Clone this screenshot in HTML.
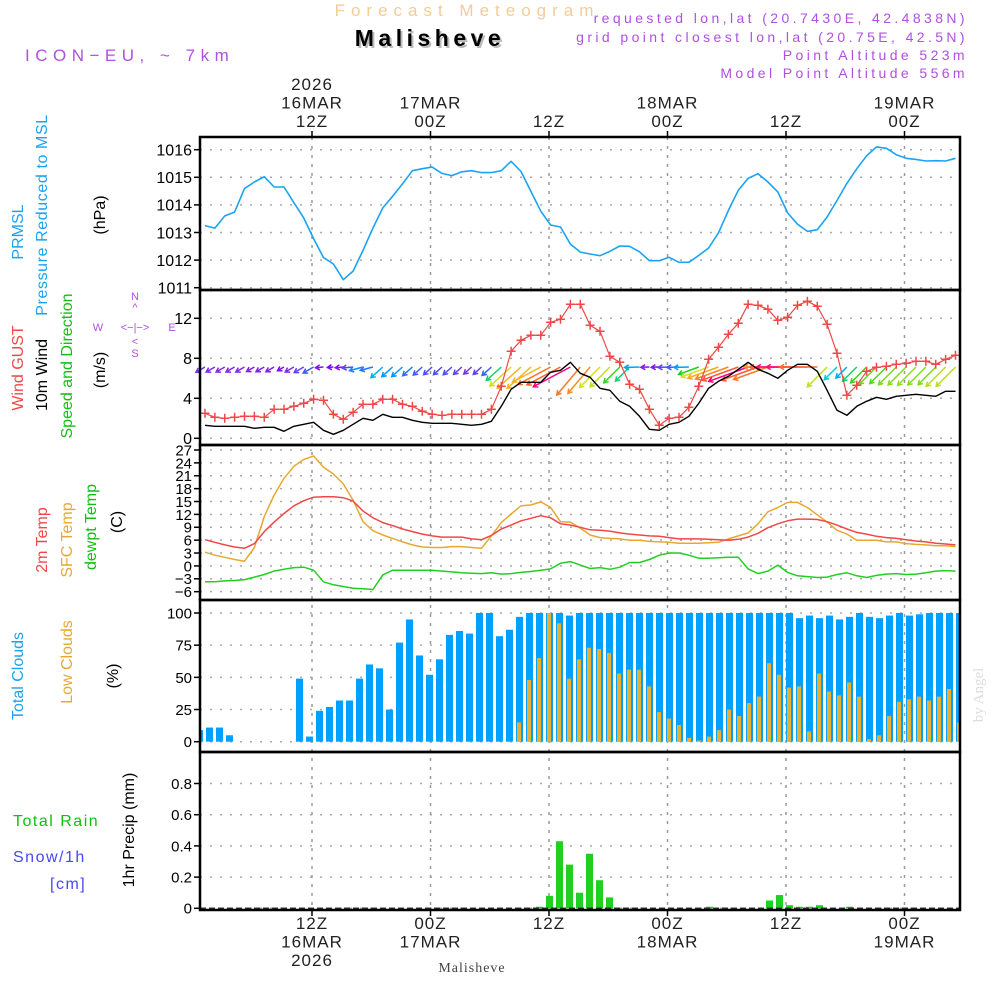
<!DOCTYPE html>
<html><head><meta charset="utf-8">
<style>
html,body{margin:0;padding:0;background:#fff;}
svg{display:block;font-family:"Liberation Sans",sans-serif;}
</style></head>
<body>
<svg id="chart" width="1000" height="1000" viewBox="0 0 1000 1000" xmlns="http://www.w3.org/2000/svg">
<rect x="0" y="0" width="1000" height="1000" fill="#fff"/>
<text x="467" y="16" font-size="17" fill="#f3cc96" text-anchor="middle" letter-spacing="6">Forecast Meteogram</text>
<text x="432" y="48" font-size="23" font-weight="bold" fill="#bbb" text-anchor="middle" letter-spacing="4.5">Malisheve</text>
<text x="430" y="46" font-size="23" font-weight="bold" fill="#000" text-anchor="middle" letter-spacing="4.5">Malisheve</text>
<g font-size="14" fill="#b050e0" text-anchor="end" letter-spacing="3.4">
<text x="968" y="23">requested lon,lat (20.7430E, 42.4838N)</text>
<text x="968" y="42">grid point closest lon,lat (20.75E, 42.5N)</text>
<text x="968" y="60">Point Altitude 523m</text>
<text x="968" y="78">Model Point Altitude 556m</text>
</g>
<text x="25" y="61" font-size="17" fill="#b050e0" letter-spacing="5.5">ICON−EU, ~ 7km</text>
<g font-size="16">
<text transform="translate(23,232) rotate(-90)" fill="#1aa3f0" text-anchor="middle">PRMSL</text>
<text transform="translate(47,215) rotate(-90)" fill="#1aa3f0" text-anchor="middle" letter-spacing="0.6">Pressure Reduced to MSL</text>
<text transform="translate(105,215) rotate(-90)" fill="#000" text-anchor="middle">(hPa)</text>
<text transform="translate(23,368) rotate(-90)" fill="#f04848" text-anchor="middle">Wind GUST</text>
<text transform="translate(47,375) rotate(-90)" fill="#000" text-anchor="middle">10m Wind</text>
<text transform="translate(72,366) rotate(-90)" fill="#10c010" text-anchor="middle">Speed and Direction</text>
<text transform="translate(105,370) rotate(-90)" fill="#000" text-anchor="middle">(m/s)</text>
<text transform="translate(47,540) rotate(-90)" fill="#f04848" text-anchor="middle">2m Temp</text>
<text transform="translate(72,540) rotate(-90)" fill="#e8a830" text-anchor="middle">SFC Temp</text>
<text transform="translate(96,527) rotate(-90)" fill="#10c010" text-anchor="middle">dewpt Temp</text>
<text transform="translate(122,522) rotate(-90)" fill="#000" text-anchor="middle">(C)</text>
<text transform="translate(23,676) rotate(-90)" fill="#1aa3f0" text-anchor="middle">Total Clouds</text>
<text transform="translate(72,662) rotate(-90)" fill="#e8a830" text-anchor="middle">Low Clouds</text>
<text transform="translate(118,676) rotate(-90)" fill="#000" text-anchor="middle">(%)</text>
<text transform="translate(134,830) rotate(-90)" fill="#000" text-anchor="middle">1hr Precip (mm)</text>
<text x="13" y="826" fill="#10c010" letter-spacing="1.5">Total  Rain</text>
<text x="13" y="862" fill="#4848f0" letter-spacing="1.5">Snow/1h</text>
<text x="50" y="889" fill="#4848f0" letter-spacing="1.5">[cm]</text>
</g>
<g font-size="11" fill="#b050e0" text-anchor="middle">
<text x="135" y="300">N</text><text x="135" y="311">^</text>
<text x="98" y="331">W</text><text x="135" y="331">&lt;−|−&gt;</text><text x="172" y="331">E</text>
<text x="135" y="345">&lt;</text><text x="135" y="357">S</text>
</g>
<text transform="translate(983,695) rotate(-90)" font-size="15" fill="#ddd" text-anchor="middle" font-family="Liberation Serif, serif">by Angel</text>
<text x="472" y="972" font-size="14" fill="#444" text-anchor="middle" font-family="Liberation Serif, serif" letter-spacing="1">Malisheve</text>
<g id="grid"></g>
<g id="marks"></g>
<g id="axes"></g>
</svg>
<script>
const timeHours = [0, 12, 24, 36, 48, 60];
const topLabels = [["2026","16MAR","12Z"],["17MAR","00Z"],["12Z"],["18MAR","00Z"],["12Z"],["19MAR","00Z"]];
const bottomLabels = [["12Z","16MAR","2026"],["00Z","17MAR"],["12Z"],["00Z","18MAR"],["12Z"],["00Z","19MAR"]];
const pressure = [1013.25,1013.16,1013.6,1013.74,1014.59,1014.83,1015.02,1014.65,1014.65,1014.08,1013.52,1012.78,1012.09,1011.86,1011.29,1011.6,1012.35,1013.16,1013.89,1014.31,1014.76,1015.24,1015.31,1015.37,1015.14,1015.06,1015.2,1015.24,1015.17,1015.17,1015.24,1015.58,1015.21,1014.49,1013.77,1013.27,1013.2,1012.58,1012.29,1012.22,1012.16,1012.32,1012.51,1012.5,1012.3,1011.98,1011.98,1012.1,1011.92,1011.92,1012.17,1012.44,1012.99,1013.8,1014.53,1014.96,1015.13,1014.83,1014.47,1013.71,1013.3,1013.04,1013.1,1013.56,1014.16,1014.78,1015.31,1015.78,1016.1,1016.05,1015.82,1015.69,1015.65,1015.59,1015.6,1015.59,1015.69];
const pressureTicks = [1011,1012,1013,1014,1015,1016];
const gust = [2.5,2.1,2.0,2.1,2.2,2.2,2.1,2.9,2.9,3.2,3.5,3.9,3.8,2.4,1.9,2.6,3.4,3.4,3.9,3.9,3.4,3.2,2.7,2.4,2.3,2.4,2.4,2.4,2.4,2.9,5.2,8.7,9.8,10.3,10.3,11.6,11.9,13.4,13.4,11.3,10.7,8.2,7.6,5.4,4.9,2.9,1.3,2.0,2.1,3.1,5.2,7.9,9.1,10.4,11.5,13.4,13.3,12.9,11.8,12.1,13.3,13.7,13.2,11.4,8.5,4.3,5.3,6.7,7.1,7.2,7.4,7.5,7.7,7.7,7.4,7.9,8.3];
const wind10 = [1.3,1.2,1.2,1.2,1.2,1.0,1.1,1.1,0.7,1.2,1.4,1.6,0.8,0.4,0.8,1.4,2.0,1.8,2.4,2.1,2.1,1.8,1.6,1.5,1.5,1.5,1.4,1.3,1.4,1.7,3.2,4.9,5.6,5.6,5.6,6.6,6.8,7.6,6.5,6.1,5.0,4.8,3.7,3.2,2.2,0.9,0.8,1.4,1.6,2.2,3.5,5.0,5.7,6.2,6.9,7.6,6.9,6.5,6.0,6.8,7.4,7.4,6.7,4.8,2.8,2.3,3.2,3.7,4.1,3.9,4.2,4.3,4.4,4.3,4.2,4.7,4.7];
const windDir = [60,60,60,60,60,60,60,60,60,60,60,60,85,85,85,85,75,75,48,48,48,48,48,48,48,48,48,48,48,48,48,48,48,48,62,62,62,62,40,40,45,45,45,45,88,88,88,88,88,88,70,70,70,70,70,70,70,70,90,90,90,90,90,45,45,45,45,45,45,45,45,45,45,45,45,45,45];
const windTicks = [0,4,8,12];
const temp2m = [6.1,5.5,4.9,4.4,4.1,5.2,8.0,10.2,12.2,14.0,15.2,16.0,16.1,16.1,15.9,15.1,12.8,11.2,10.1,9.4,8.6,8.0,7.4,7.0,6.7,6.7,6.7,6.3,6.1,7.1,8.6,9.5,10.5,11.1,11.7,11.2,9.8,9.5,9.0,8.4,8.3,8.1,7.7,7.4,7.2,7.0,6.9,6.6,6.3,6.3,6.3,6.2,6.1,6.0,6.2,6.7,7.6,8.9,9.8,10.5,10.9,10.9,10.8,10.3,9.5,8.6,7.8,7.4,6.9,6.6,6.4,6.1,5.8,5.6,5.3,5.1,4.9];
const tempSfc = [3.2,2.5,2.0,1.5,1.1,4.3,11.5,16.5,20.4,23.2,24.8,25.6,23.0,21.4,19.1,15.3,10.3,8.2,7.2,6.4,5.6,4.9,4.4,4.3,4.3,4.5,4.5,4.3,4.1,7.0,10.1,12.1,14.0,14.2,14.9,13.6,10.3,10.2,8.8,7.2,6.6,6.4,6.3,6.0,6.0,5.7,5.6,5.5,5.3,5.3,5.3,5.4,5.5,6.3,7.0,7.7,9.8,12.6,13.6,14.8,14.8,13.6,11.9,10.2,8.3,7.4,6.0,6.0,6.0,5.6,5.6,5.2,5.0,4.9,4.7,4.7,4.5];
const dewpt = [-3.7,-3.7,-3.5,-3.4,-3.2,-2.6,-2.0,-1.2,-0.8,-0.4,-0.3,-1.0,-3.7,-4.4,-4.8,-5.2,-5.3,-5.5,-2.1,-1.0,-1.0,-1.0,-1.0,-1.0,-1.2,-1.4,-1.6,-1.7,-1.8,-1.6,-1.9,-1.8,-1.5,-1.3,-1.0,-0.7,0.6,1.0,0.2,-0.6,-0.4,-0.8,-0.3,0.8,0.8,1.5,2.5,3.0,3.0,2.5,1.8,1.8,1.9,2.0,2.0,-0.7,-1.8,-1.2,0.2,-1.5,-2.3,-2.5,-2.7,-2.6,-2.0,-1.6,-2.3,-2.7,-2.2,-1.9,-1.8,-2.0,-1.9,-1.6,-1.2,-1.1,-1.2];
const tempTicks = [27,24,21,18,15,12,9,6,3,0,-3,-6];
const totalClouds = [9,11,11,5,0,0,0,0,0,0,49,4,24,27,32,32,49,60,57,25,77,95,67,52,64,83,86,84,100,100,82,87,97,100,100,100,100,98,100,100,100,100,100,100,100,100,100,100,100,100,100,100,100,100,100,100,100,100,100,100,96,98,96,98,95,97,100,97,96,98,100,98,99,100,100,100,100];
const lowClouds = [0,0,0,0,0,0,0,0,0,0,0,0,0,0,0,0,0,0,0,0,0,0,0,0,0,0,0,0,0,0,0,0,15,48,65,100,92,49,64,73,72,69,53,56,56,43,23,18,13,3,1,4,9,25,20,30,35,61,52,42,43,8,53,39,36,46,35,2,5,20,31,33,35,32,35,41,15];
const cloudTicks = [0,25,50,75,100];
const precip = [0,0,0,0,0,0,0,0,0,0,0,0,0,0,0,0,0,0,0,0,0,0,0,0,0,0,0,0,0,0,0,0,0,0,0.01,0.08,0.43,0.28,0.10,0.35,0.18,0.07,0,0,0,0,0,0,0,0,0,0.01,0,0,0,0,0,0.05,0.085,0.02,0.01,0.01,0.02,0,0,0.01,0,0,0,0,0,0,0,0,0,0,0];
const precipTicks = [0,0.2,0.4,0.6,0.8];

const X0 = 200, X1 = 960;
const xTime = h => 312 + h * 9.875;
const xLine = i => 205 + i * 9.875;
const xBar = i => 199.5 + i * 10;
const yP = v => 149.7 + (1016 - v) * 27.6;
const yW = v => 438.3 - v * 10;
const yT = v => 450 + (27 - v) * 4.293;
const yC = v => 741.7 - v * 1.287;
const yR = v => 908.3 - v * 156;
const panels = [[137,290],[290,445],[445,600],[600,752],[752,910]];

const NS = "http://www.w3.org/2000/svg";
function mk(parent, tag, attrs) {
  const el = document.createElementNS(NS, tag);
  for (const k in attrs) el.setAttribute(k, attrs[k]);
  parent.appendChild(el);
  return el;
}
const grid = document.getElementById('grid');
const marks = document.getElementById('marks');
const axes = document.getElementById('axes');

function yAxis(ticks, yf, name, fs) {
  ticks.forEach(t => {
    const y = yf(t);
    const g = mk(grid, 'line', {x1: X0, x2: X1, y1: y, y2: y, stroke: '#aaa', 'stroke-width': 1.5, 'stroke-dasharray': '2 8'});
    
    
    mk(axes, 'line', {x1: 194, x2: 200, y1: y, y2: y, stroke: '#000', 'stroke-width': 1.5});
    const tx = mk(axes, 'text', {x: 192, y: y + fs * 0.36, 'font-size': fs, 'text-anchor': 'end', fill: '#000'});
    tx.textContent = (t < 0 ? '−' + (-t) : String(t));
    
    
  });
}
yAxis(pressureTicks, yP, 'pressure', 16);
yAxis(windTicks, yW, 'wind', 16);
yAxis(tempTicks, yT, 'temp', 15);
yAxis(cloudTicks, yC, 'cloud', 15);
yAxis(precipTicks, yR, 'precip', 15);

timeHours.forEach((h, k) => {
  const x = xTime(h);
  const v = mk(grid, 'line', {x1: x, x2: x, y1: 137, y2: 910, stroke: '#999', 'stroke-width': 1.5, 'stroke-dasharray': '3 6'});
  
  
  mk(axes, 'line', {x1: x, x2: x, y1: 131, y2: 137, stroke: '#000', 'stroke-width': 1.5});
  mk(axes, 'line', {x1: x, x2: x, y1: 910, y2: 916, stroke: '#000', 'stroke-width': 1.5});
  const tl = topLabels[k];
  tl.forEach((s, j) => {
    const t = mk(axes, 'text', {x: x, y: 127 - (tl.length - 1 - j) * 18.5, 'font-size': 17, 'text-anchor': 'middle', fill: '#222', 'letter-spacing': 1});
    t.textContent = s;
    
    
  });
  bottomLabels[k].forEach((s, j) => {
    const t = mk(axes, 'text', {x: x, y: 929 + j * 18.5, 'font-size': 17, 'text-anchor': 'middle', fill: '#222', 'letter-spacing': 1});
    t.textContent = s;
    
    
  });
});

panels.forEach(p => {
  const r = mk(axes, 'rect', {x: X0, y: p[0], width: X1 - X0, height: p[1] - p[0], fill: 'none', stroke: '#000', 'stroke-width': 2.5});
  
  
});

function polyline(arr, yf, color, name, w) {
  const pts = arr.map((v, i) => xLine(i).toFixed(1) + ',' + yf(v).toFixed(1)).join(' ');
  const p = mk(marks, 'polyline', {points: pts, fill: 'none', stroke: color, 'stroke-width': w || 1.5, 'stroke-linejoin': 'round'});
  
  
  return p;
}
polyline(pressure, yP, '#1aa3f5', 'pressure-line', 1.6);

function windColor(s) {
  const stops = [[0.5,[128,0,255]],[1.2,[130,40,230]],[1.6,[60,90,255]],[2.2,[0,160,255]],[2.8,[0,210,210]],[3.5,[30,210,30]],[4.5,[160,224,32]],[5.2,[240,224,32]],[5.8,[240,160,32]],[6.8,[255,100,40]],[7.5,[255,0,128]]];
  if (s <= stops[0][0]) return 'rgb(' + stops[0][1] + ')';
  for (let k = 1; k < stops.length; k++) {
    if (s <= stops[k][0]) {
      const a = stops[k-1], b = stops[k], f = (s - a[0]) / (b[0] - a[0]);
      return 'rgb(' + a[1].map((c, j) => Math.round(c + (b[1][j] - c) * f)).join(',') + ')';
    }
  }
  return 'rgb(' + stops[stops.length-1][1] + ')';
}
wind10.forEach((s, i) => {
  const th = windDir[i] * Math.PI / 180;
  const L = 4 + s * 5;
  const x0 = xLine(i), y0 = 367;
  const dx = -Math.sin(th), dy = Math.cos(th);
  const x1 = x0 + dx * L, y1 = y0 + dy * L;
  const col = windColor(s);
  const hs = 5, ang = Math.atan2(dy, dx);
  const a1 = ang + 2.6, a2 = ang - 2.6;
  const d = `M${x0.toFixed(1)},${y0} L${x1.toFixed(1)},${y1.toFixed(1)} M${(x1 + Math.cos(a1)*hs).toFixed(1)},${(y1 + Math.sin(a1)*hs).toFixed(1)} L${x1.toFixed(1)},${y1.toFixed(1)} L${(x1 + Math.cos(a2)*hs).toFixed(1)},${(y1 + Math.sin(a2)*hs).toFixed(1)}`;
  const p = mk(marks, 'path', {d: d, stroke: col, 'stroke-width': 1.5, fill: 'none'});
  
  
});
polyline(wind10, yW, '#000', 'wind10m-line', 1.4);
polyline(gust, yW, '#f04848', 'gust-line', 1.2);
gust.forEach((v, i) => {
  const x = xLine(i), y = yW(v);
  const c = mk(marks, 'path', {d: `M${x-4.5},${y} H${x+4.5} M${x},${y-4.5} V${y+4.5}`, stroke: '#f04848', 'stroke-width': 1.5});
  
  
});

polyline(dewpt, yT, '#20d020', 'dewpoint-line', 1.5);
polyline(tempSfc, yT, '#e8a830', 'sfc-temp-line', 1.5);
polyline(temp2m, yT, '#f04848', 'temp2m-line', 1.5);

totalClouds.forEach((v, i) => {
  const x = xBar(i) - 3.5;
  const xa = Math.max(x, X0), w = x + 7 - xa;
  if (v > 0 && w > 0) {
    const r = mk(marks, 'rect', {x: xa, y: yC(v), width: Math.min(w, X1 - xa), height: yC(0) - yC(v), fill: '#00a0ff'});
    
    
  }
});
lowClouds.forEach((v, i) => {
  if (v <= 0) return;
  const x = xBar(i) - 2.5;
  const r = mk(marks, 'rect', {x: x, y: yC(v), width: 4, height: yC(0) - yC(v), fill: '#e8b030'});
  
  
});

precip.forEach((v, i) => {
  if (v <= 0) return;
  const r = mk(marks, 'rect', {x: xBar(i) - 3.5, y: yR(v), width: 7, height: yR(0) - yR(v), fill: '#20d020'});
  
  
});
const sl = mk(marks, 'line', {x1: X0, x2: X1, y1: yR(0), y2: yR(0), stroke: '#333', 'stroke-width': 1.5, 'stroke-dasharray': '6 3'});


</script>
</body></html>
